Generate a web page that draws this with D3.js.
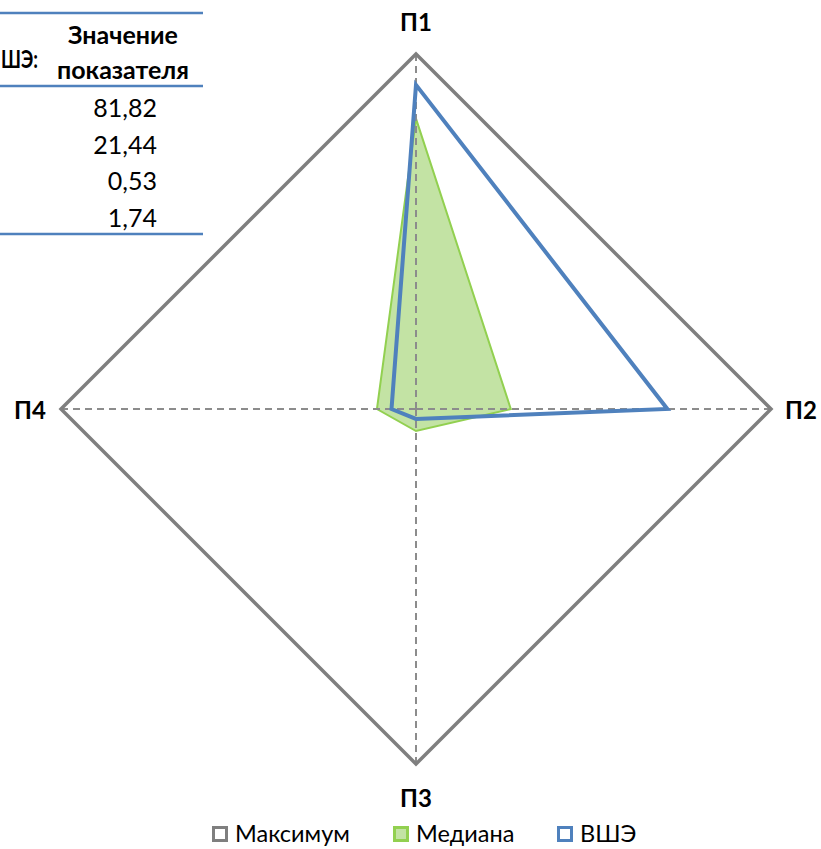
<!DOCTYPE html>
<html><head><meta charset="utf-8">
<script src="https://cdn.jsdelivr.net/npm/d3@7"></script>
<style>html,body{margin:0;padding:0;background:#fff;} svg{display:block;}</style>
</head><body>
<script>
const axesLabels = ["П1","П2","П3","П4"];
const seriesNames = ["Максимум","Медиана","ВШЭ"];
const maxValues = [100,100,100,100];
const medianValues = [81.8,26.7,6.2,11.0];
const hseValues = [91.3,70.8,2.8,6.9];
const tableHeader = ["ШЭ:","Значение","показателя"];
const tableValues = ["81,82","21,44","0,53","1,74"];

const W=821,H=849;
const font="Lato, 'Open Sans', sans-serif";
const svg=d3.select("body").append("svg").attr("width",W).attr("height",H);
const cx=416, cy=409;
const r=d3.scaleLinear().domain([0,100]).range([0,355]);
const angle=d3.scaleBand().domain(axesLabels).range([0,2*Math.PI]);
const pt=(k,v)=>[cx+r(v)*Math.sin(angle(k)), cy-r(v)*Math.cos(angle(k))];
const poly=vals=>axesLabels.map((k,i)=>pt(k,vals[i]));
const line=d3.line().curve(d3.curveLinearClosed);

const g=svg.append("g");
function drawAxes(){
  axesLabels.forEach(k=>{
    const [x,y]=pt(k,100);
    g.append("line").attr("x1",cx).attr("y1",cy).attr("x2",x).attr("y2",y)
     .attr("stroke","#8c8c8c").attr("stroke-width",2).attr("stroke-dasharray","7,5");
  });
}
g.append("path").attr("d",line(poly(medianValues))).attr("fill","#c3e3a4")
 .attr("stroke","#92d050").attr("stroke-width",2).attr("stroke-linejoin","miter");
drawAxes();
g.append("path").attr("d",line(poly(maxValues))).attr("fill","none")
 .attr("stroke","#7f7f7f").attr("stroke-width",3.5).attr("stroke-linejoin","miter");
g.append("path").attr("d",line(poly(hseValues))).attr("fill","none")
 .attr("stroke","#4f81bd").attr("stroke-width",4).attr("stroke-linejoin","miter");

const labPos={"П1":[416,21],"П2":[801,409],"П3":[416,797],"П4":[30,409]};
axesLabels.forEach(k=>{
  svg.append("text").attr("x",labPos[k][0]).attr("y",labPos[k][1]).attr("text-anchor","middle")
   .attr("dominant-baseline","central").attr("font-family",font).attr("font-weight","bold")
   .attr("font-size",24).attr("fill","#000").text(k);
});

const tg=svg.append("g");
[13,86,234].forEach(y=>tg.append("line").attr("x1",-10).attr("x2",203).attr("y1",y).attr("y2",y)
  .attr("stroke","#4f81bd").attr("stroke-width",2.5));
tg.append("text").attr("x",1).attr("y",58).attr("text-anchor","start").attr("dominant-baseline","central")
  .attr("font-family",font).attr("font-weight","bold").attr("font-size",25)
  .attr("textLength",37).attr("lengthAdjust","spacingAndGlyphs").text(tableHeader[0]);
tg.append("text").attr("x",123).attr("y",34).attr("text-anchor","middle").attr("dominant-baseline","central")
  .attr("font-family",font).attr("font-weight","bold").attr("font-size",25).text(tableHeader[1]);
tg.append("text").attr("x",123).attr("y",69).attr("text-anchor","middle").attr("dominant-baseline","central")
  .attr("font-family",font).attr("font-weight","bold").attr("font-size",25).text(tableHeader[2]);
tableValues.forEach((v,i)=>tg.append("text").attr("x",157).attr("y",107+i*36.6).attr("text-anchor","end")
  .attr("dominant-baseline","central").attr("font-family",font).attr("font-size",25).text(v));

const legColors=[{s:"#7f7f7f",f:"#fff"},{s:"#92d050",f:"#c3e3a4"},{s:"#4f81bd",f:"#fff"}];
const legX=[212,393,557];
seriesNames.forEach((n,i)=>{
  svg.append("rect").attr("x",legX[i]+1.5).attr("y",827.5).attr("width",13).attr("height",13)
    .attr("fill",legColors[i].f).attr("stroke",legColors[i].s).attr("stroke-width",3);
  svg.append("text").attr("x",legX[i]+23).attr("y",842)
    .attr("font-family",font).attr("font-size",23.5).attr("fill","#000").text(n);
});
</script>
</body></html>
